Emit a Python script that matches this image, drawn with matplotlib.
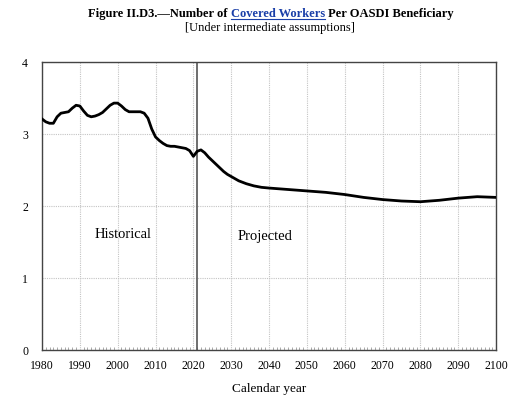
import matplotlib
matplotlib.use('Agg')
import matplotlib.pyplot as plt
import numpy as np
from matplotlib.lines import Line2D

plt.rcParams['font.family'] = ['Liberation Serif', 'DejaVu Serif']

# ratio of covered workers per OASDI beneficiary
years = [1980, 1981, 1982, 1983, 1984, 1985, 1986, 1987, 1988, 1989,
         1990, 1991, 1992, 1993, 1994, 1995, 1996, 1997, 1998, 1999,
         2000, 2001, 2002, 2003, 2004, 2005, 2006, 2007, 2008, 2009,
         2010, 2011, 2012, 2013, 2014, 2015, 2016, 2017, 2018, 2019,
         2020, 2021, 2022, 2023, 2024, 2025, 2026, 2027, 2028, 2029,
         2030, 2032, 2034, 2036, 2038, 2040, 2045, 2050, 2055, 2060,
         2065, 2070, 2075, 2080, 2085, 2090, 2095, 2100]
ratio = [3.21, 3.17, 3.15, 3.15, 3.24, 3.29, 3.30, 3.31, 3.36, 3.40,
         3.39, 3.32, 3.26, 3.24, 3.25, 3.27, 3.30, 3.35, 3.40, 3.43,
         3.43, 3.39, 3.34, 3.31, 3.31, 3.31, 3.31, 3.29, 3.22, 3.07,
         2.96, 2.91, 2.87, 2.84, 2.83, 2.83, 2.82, 2.81, 2.80, 2.77,
         2.69, 2.76, 2.78, 2.74, 2.68, 2.63, 2.58, 2.53, 2.48, 2.44,
         2.41, 2.35, 2.31, 2.28, 2.26, 2.25, 2.23, 2.21, 2.19, 2.16,
         2.12, 2.09, 2.07, 2.06, 2.08, 2.11, 2.13, 2.12]
split_year = 2021
x_ticks = list(range(1980, 2101, 10))
y_ticks = [0, 1, 2, 3, 4]

fig = plt.figure(figsize=(5.25, 3.98), dpi=100)
ax = fig.add_axes([0.080, 0.1206, 0.865, 0.7234])

ax.plot(years, ratio, color='black', linewidth=2.0, zorder=3)
ax.axvline(split_year, color='#555555', linewidth=1.2, zorder=2)

ax.set_xlim(1980, 2100)
ax.set_ylim(0, 4)
ax.set_xticks(x_ticks)
ax.set_yticks(y_ticks)
ax.set_xticks(range(1980, 2101), minor=True)
ax.grid(True, which='major', color='#c4c4c4', linestyle=(0, (1, 1)), linewidth=0.8)
ax.tick_params(axis='both', which='major', length=0, labelsize=8.5)
ax.tick_params(axis='x', which='major', pad=7)
ax.tick_params(axis='y', which='major', pad=10)
ax.tick_params(axis='x', which='minor', direction='in', length=2, width=0.5, color='#888888')
ax.tick_params(axis='y', which='minor', length=0)
for s in ax.spines.values():
    s.set_color('#444444')
    s.set_linewidth(1.0)

ax.set_xlabel('Calendar year', fontsize=9.5, labelpad=8)
ax.text(2001.5, 1.6, 'Historical', fontsize=10.5, ha='center', va='center')
ax.text(2039, 1.58, 'Projected', fontsize=10.5, ha='center', va='center')

# title in three pieces so the middle one can be blue and underlined
parts = [('Figure II.D3.\u2014Number of ', 'black'),
         ('Covered Workers', '#1a3fa8'),
         (' Per OASDI Beneficiary', 'black')]
fig.canvas.draw()
renderer = fig.canvas.get_renderer()
texts = []
widths = []
for s, c in parts:
    t = fig.text(0, 0.965, s, fontsize=9, fontweight='bold', color=c,
                 ha='left', va='center')
    texts.append(t)
    widths.append(t.get_window_extent(renderer).width)
total = sum(widths)
x0 = (271 - total / 2)
for t, w in zip(texts, widths):
    t.set_x(x0 / 525)
    x0 += w
bb = texts[1].get_window_extent(renderer)
fig.add_artist(Line2D([bb.x0 / 525, bb.x1 / 525], [(bb.y0 + 0.5) / 398] * 2,
                      color='#1a3fa8', linewidth=0.8))
fig.text(0.515, 0.930, '[Under intermediate assumptions]', fontsize=9,
         ha='center', va='center')

fig.savefig('out.png', dpi=100)
